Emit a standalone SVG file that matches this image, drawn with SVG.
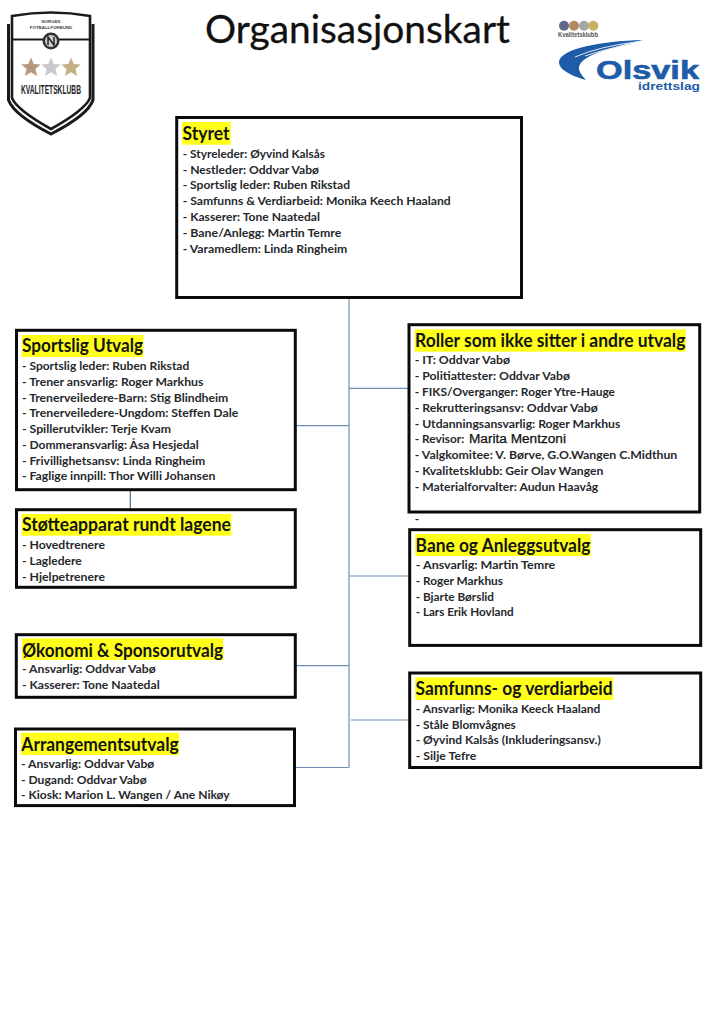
<svg xmlns="http://www.w3.org/2000/svg" width="709" height="1024" viewBox="0 0 709 1024">
<style>
text{font-family:Lato,"Liberation Sans",sans-serif}
.box{fill:#fff;stroke:#0a0a0a;stroke-width:3}
.hl{fill:#ffff19}
.t{font-size:18px;font-weight:700;fill:#141414}
.l{font-size:11.8px;font-weight:700;fill:#26282c}
.c{fill:none;stroke:#6f90b2;stroke-width:1.2}
</style>
<rect width="709" height="1024" fill="#fff"/>

<g id="connectors">
<path class="c" d="M349 299V767.5M296 425.7H349M296 665.7H349M296 767.5H349M349 388.3H408M349 576H409M351 720H409"/>
<path class="c" style="stroke:#4f6f8f" d="M130.3 475V509"/>
</g>

<g id="logo-kvalitetsklubb">
<path d="M8.5 24V100Q14 115 51 134Q88 115 93 100V24" fill="none" stroke="#1a1a1a" stroke-width="3"/>
<path d="M12 16Q51 9 90 16V98Q85 110 51 129Q17 110 12 98Z" fill="#fff" stroke="#1a1a1a" stroke-width="2.6"/>
<path d="M13 39.5H89" stroke="#1a1a1a" stroke-width="1.8"/>
<circle cx="51" cy="41" r="8.5" fill="#333"/>
<circle cx="51" cy="41" r="6" fill="#cfcfcf"/>
<path d="M48 45V37L54 45V37" fill="none" stroke="#222" stroke-width="1.5"/>
<text x="51" y="22.5" text-anchor="middle" style="font-family:'Liberation Sans',sans-serif;font-size:4.4px;font-weight:700" fill="#444">NORGES</text>
<text x="51" y="29" text-anchor="middle" style="font-family:'Liberation Sans',sans-serif;font-size:4.4px;font-weight:700" fill="#444">FOTBALLFORBUND</text>
<path d="M31 57.5l2.7 6.5 7 .6-5.3 4.5 1.7 6.9-6.1-3.7-6.1 3.7 1.7-6.9-5.3-4.5 7-.6z" fill="#b4977f"/>
<path d="M51 57.5l2.7 6.5 7 .6-5.3 4.5 1.7 6.9-6.1-3.7-6.1 3.7 1.7-6.9-5.3-4.5 7-.6z" fill="#c9c9cd"/>
<path d="M71 57.5l2.7 6.5 7 .6-5.3 4.5 1.7 6.9-6.1-3.7-6.1 3.7 1.7-6.9-5.3-4.5 7-.6z" fill="#c2b184"/>
<text x="21" y="94" textLength="60" lengthAdjust="spacingAndGlyphs" style="font-family:'Liberation Sans',sans-serif;font-size:12.5px;font-weight:700" fill="#222">KVALITETSKLUBB</text>
</g>

<g id="title"><text x="205" y="43" textLength="305" lengthAdjust="spacingAndGlyphs" style="font-size:38px" fill="#111" stroke="#111" stroke-width=".3">Organisasjonskart</text></g>

<g id="logo-olsvik">
<circle cx="564" cy="25.7" r="5" fill="#5d6a8a"/>
<circle cx="574" cy="25.7" r="5" fill="#b08a5a"/>
<circle cx="584" cy="25.7" r="5" fill="#a5a5a8"/>
<circle cx="593.3" cy="25.7" r="5" fill="#c8b060"/>
<text x="558" y="36.5" textLength="40" lengthAdjust="spacingAndGlyphs" style="font-family:'Liberation Sans',sans-serif;font-size:7px;font-weight:700" fill="#555">Kvalitetsklubb</text>
<path d="M643 40C600 41 560 49 559 62C559 70 572 76 586 80C578 71 574 65 590 56C605 49 625 44 643 40Z" fill="#1f5ca8"/>
<path d="M575 57Q600 46 640 41.5M585 56Q605 49 632 44" fill="none" stroke="#dfe9f4" stroke-width="1"/>
<text x="596" y="79" textLength="103" lengthAdjust="spacingAndGlyphs" style="font-family:'Liberation Sans',sans-serif;font-size:25px;font-weight:700" fill="#1f5ca8" stroke="#1f5ca8" stroke-width=".6">Olsvik</text>
<text x="638" y="90" textLength="62" lengthAdjust="spacingAndGlyphs" style="font-family:'Liberation Sans',sans-serif;font-size:11.5px;font-weight:700" fill="#1f5ca8">idrettslag</text>
</g>

<g id="styret">
<rect class="box" x="176.7" y="117.5" width="344.8" height="180"/>
<rect class="hl" x="182" y="122" width="48.7" height="22.7"/>
<text class="t" x="182.5" y="140" textLength="47" lengthAdjust="spacingAndGlyphs">Styret</text>
<text class="l" x="182.7" y="157.7" textLength="142.3" lengthAdjust="spacingAndGlyphs">- Styreleder: Øyvind Kalsås</text>
<text class="l" x="182.7" y="173.5" textLength="136.3" lengthAdjust="spacingAndGlyphs">- Nestleder: Oddvar Vabø</text>
<text class="l" x="182.7" y="189.3" textLength="167.3" lengthAdjust="spacingAndGlyphs">- Sportslig leder: Ruben Rikstad</text>
<text class="l" x="182.7" y="205.1" textLength="268" lengthAdjust="spacingAndGlyphs">- Samfunns &amp; Verdiarbeid: Monika Keech Haaland</text>
<text class="l" x="182.7" y="220.9" textLength="137.3" lengthAdjust="spacingAndGlyphs">- Kasserer: Tone Naatedal</text>
<text class="l" x="182.7" y="236.7" textLength="158.6" lengthAdjust="spacingAndGlyphs">- Bane/Anlegg: Martin Temre</text>
<text class="l" x="182.7" y="252.5" textLength="164.6" lengthAdjust="spacingAndGlyphs">- Varamedlem: Linda Ringheim</text>
</g>

<g id="sportslig-utvalg">
<rect class="box" x="16.5" y="330.3" width="278.8" height="159.4"/>
<rect class="hl" x="21.7" y="335" width="121.6" height="22"/>
<text class="t" x="22" y="351.7" textLength="121" lengthAdjust="spacingAndGlyphs">Sportslig Utvalg</text>
<text class="l" x="22" y="370" textLength="167.3" lengthAdjust="spacingAndGlyphs">- Sportslig leder: Ruben Rikstad</text>
<text class="l" x="22" y="385.8" textLength="181.3" lengthAdjust="spacingAndGlyphs">- Trener ansvarlig: Roger Markhus</text>
<text class="l" x="22" y="401.5" textLength="206.3" lengthAdjust="spacingAndGlyphs">- Trenerveiledere-Barn: Stig Blindheim</text>
<text class="l" x="22" y="417.3" textLength="216.3" lengthAdjust="spacingAndGlyphs">- Trenerveiledere-Ungdom: Steffen Dale</text>
<text class="l" x="22" y="433" textLength="149" lengthAdjust="spacingAndGlyphs">- Spillerutvikler: Terje Kvam</text>
<text class="l" x="22" y="448.8" textLength="176.7" lengthAdjust="spacingAndGlyphs">- Dommeransvarlig: Åsa Hesjedal</text>
<text class="l" x="22" y="464.5" textLength="183.3" lengthAdjust="spacingAndGlyphs">- Frivillighetsansv: Linda Ringheim</text>
<text class="l" x="22" y="480.3" textLength="193.3" lengthAdjust="spacingAndGlyphs">- Faglige innpill: Thor Willi Johansen</text>
</g>

<g id="stotteapparat">
<rect class="box" x="16.5" y="509.7" width="278.8" height="77.6"/>
<rect class="hl" x="21.7" y="514" width="209.6" height="21.7"/>
<text class="t" x="22" y="531" textLength="209" lengthAdjust="spacingAndGlyphs">Støtteapparat rundt lagene</text>
<text class="l" x="22" y="549.3" textLength="83" lengthAdjust="spacingAndGlyphs">- Hovedtrenere</text>
<text class="l" x="22" y="565" textLength="59.7" lengthAdjust="spacingAndGlyphs">- Lagledere</text>
<text class="l" x="22" y="580.8" textLength="83" lengthAdjust="spacingAndGlyphs">- Hjelpetrenere</text>
</g>

<g id="okonomi-sponsorutvalg">
<rect class="box" x="16.3" y="634.7" width="279" height="62.6"/>
<rect class="hl" x="22" y="638.3" width="201.3" height="21.7"/>
<text class="t" x="22.3" y="656.7" textLength="200.7" lengthAdjust="spacingAndGlyphs">Økonomi &amp; Sponsorutvalg</text>
<text class="l" x="22" y="673.3" textLength="133.7" lengthAdjust="spacingAndGlyphs">- Ansvarlig: Oddvar Vabø</text>
<text class="l" x="22" y="689" textLength="137.7" lengthAdjust="spacingAndGlyphs">- Kasserer: Tone Naatedal</text>
</g>

<g id="arrangementsutvalg">
<rect class="box" x="15.5" y="729" width="279" height="76.6"/>
<rect class="hl" x="21" y="732.7" width="158" height="22.3"/>
<text class="t" x="21.3" y="751" textLength="157.4" lengthAdjust="spacingAndGlyphs">Arrangementsutvalg</text>
<text class="l" x="21" y="767.7" textLength="133.3" lengthAdjust="spacingAndGlyphs">- Ansvarlig: Oddvar Vabø</text>
<text class="l" x="21" y="783.5" textLength="125.7" lengthAdjust="spacingAndGlyphs">- Dugand: Oddvar Vabø</text>
<text class="l" x="21" y="799.3" textLength="208.7" lengthAdjust="spacingAndGlyphs">- Kiosk: Marion L. Wangen / Ane Nikøy</text>
</g>

<g id="roller">
<rect class="box" x="409" y="324.7" width="290.7" height="187.3"/>
<rect class="hl" x="414.7" y="329.3" width="271" height="22.4"/>
<text class="t" x="415" y="346.7" textLength="270.4" lengthAdjust="spacingAndGlyphs">Roller som ikke sitter i andre utvalg</text>
<text class="l" x="414.7" y="364.3" textLength="95.3" lengthAdjust="spacingAndGlyphs">- IT: Oddvar Vabø</text>
<text class="l" x="414.7" y="380.1" textLength="155.3" lengthAdjust="spacingAndGlyphs">- Politiattester: Oddvar Vabø</text>
<text class="l" x="414.7" y="395.9" textLength="200.3" lengthAdjust="spacingAndGlyphs">- FIKS/Overganger: Roger Ytre-Hauge</text>
<text class="l" x="414.7" y="411.7" textLength="183" lengthAdjust="spacingAndGlyphs">- Rekrutteringsansv: Oddvar Vabø</text>
<text class="l" x="414.7" y="427.5" textLength="205.6" lengthAdjust="spacingAndGlyphs">- Utdanningsansvarlig: Roger Markhus</text>
<text class="l" x="414.7" y="443.3" textLength="49.6" lengthAdjust="spacingAndGlyphs">- Revisor:</text>
<text x="469" y="443.3" textLength="97" lengthAdjust="spacingAndGlyphs" style="font-family:'Liberation Sans',sans-serif;font-size:12.5px" fill="#111" stroke="#111" stroke-width=".25">Marita Mentzoni</text>
<text class="l" x="414.7" y="459.1" textLength="262.6" lengthAdjust="spacingAndGlyphs">- Valgkomitee: V. Børve, G.O.Wangen C.Midthun</text>
<text class="l" x="414.7" y="474.9" textLength="188.6" lengthAdjust="spacingAndGlyphs">- Kvalitetsklubb: Geir Olav Wangen</text>
<text class="l" x="414.7" y="490.7" textLength="183.6" lengthAdjust="spacingAndGlyphs">- Materialforvalter: Audun Haavåg</text>
</g>
<text class="l" x="414.7" y="523">-</text>

<g id="bane-anlegg">
<rect class="box" x="409.7" y="529.7" width="291" height="115.7"/>
<rect class="hl" x="415.3" y="534" width="175.4" height="22"/>
<text class="t" x="415.6" y="551.7" textLength="174.8" lengthAdjust="spacingAndGlyphs">Bane og Anleggsutvalg</text>
<text class="l" x="415.7" y="569" textLength="139.6" lengthAdjust="spacingAndGlyphs">- Ansvarlig: Martin Temre</text>
<text class="l" x="415.7" y="584.8" textLength="87.3" lengthAdjust="spacingAndGlyphs">- Roger Markhus</text>
<text class="l" x="415.7" y="600.5" textLength="78.3" lengthAdjust="spacingAndGlyphs">- Bjarte Børslid</text>
<text class="l" x="415.7" y="616.3" textLength="98" lengthAdjust="spacingAndGlyphs">- Lars Erik Hovland</text>
</g>

<g id="samfunns-verdiarbeid">
<rect class="box" x="409.7" y="673" width="291" height="94.5"/>
<rect class="hl" x="415.3" y="677.3" width="197.7" height="22.7"/>
<text class="t" x="415.6" y="695" textLength="197" lengthAdjust="spacingAndGlyphs">Samfunns- og verdiarbeid</text>
<text class="l" x="415.7" y="712.7" textLength="184.6" lengthAdjust="spacingAndGlyphs">- Ansvarlig: Monika Keeck Haaland</text>
<text class="l" x="415.7" y="728.5" textLength="100" lengthAdjust="spacingAndGlyphs">- Ståle Blomvågnes</text>
<text class="l" x="415.7" y="744.2" textLength="185" lengthAdjust="spacingAndGlyphs">- Øyvind Kalsås (Inkluderingsansv.)</text>
<text class="l" x="415.7" y="760" textLength="60.6" lengthAdjust="spacingAndGlyphs">- Silje Tefre</text>
</g>
</svg>
